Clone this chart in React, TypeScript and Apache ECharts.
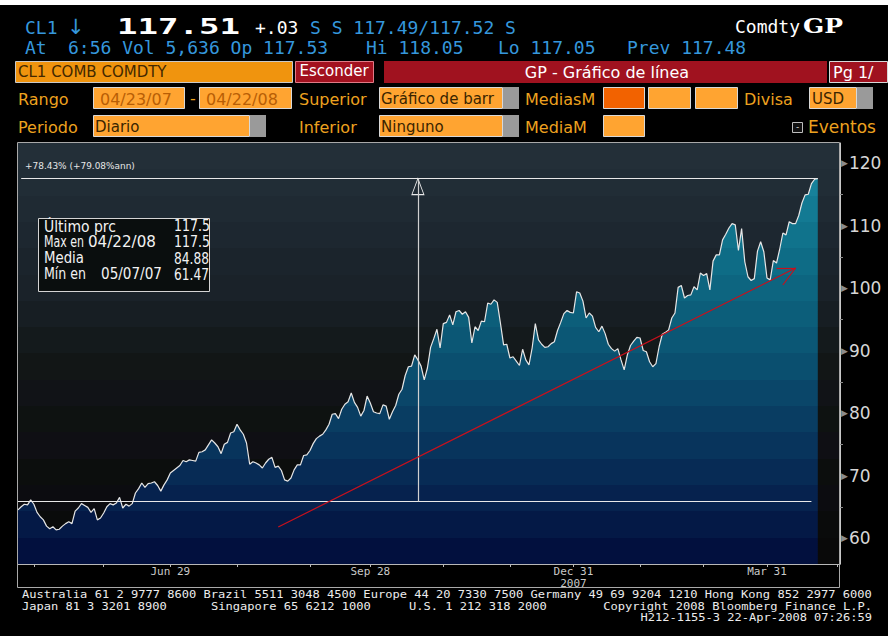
import React, { useEffect, useRef } from "react";
import * as echarts from "echarts";

// ---------- data ----------
const START_DATE = "2007-04-23";
const HOLIDAYS = ["2007-05-28", "2007-07-04", "2007-09-03", "2007-11-22", "2007-12-25", "2008-01-01", "2008-01-21", "2008-02-18", "2008-03-21"];
const AXIS_SLOTS = 260; // trading days shown on the axis (data ends at slot 252)

// CL1 daily close, 04/23/07 .. 04/22/08
const PRICES = [
  64.5, 65.0, 65.4, 65.3, 66.1, 65.4, 64.1, 63.4, 62.9, 61.9,
  61.47, 61.8, 61.3, 61.4, 61.9, 62.3, 62.6, 62.3, 64.3, 64.8,
  65.5, 65.2, 64.9, 64.1, 64.7, 62.9, 63.2, 64.0, 65.0, 65.5,
  65.3, 65.6, 66.5, 64.8, 65.4, 65.1, 65.5, 67.2, 67.9, 68.8,
  68.1, 68.7, 68.8, 69.0, 68.4, 67.5, 68.5, 69.3, 70.4, 70.8,
  71.2, 71.6, 72.4, 72.2, 72.5, 72.4, 72.3, 73.7, 73.8, 74.1,
  74.9, 75.7, 75.2, 74.6, 73.5, 75.0, 75.3, 76.8, 77.0, 78.2,
  77.3, 76.6, 75.2, 71.8, 72.2, 72.0, 71.7, 71.2, 72.0, 72.6,
  72.9, 71.3, 71.5, 70.8, 69.3, 69.1, 69.6, 70.9, 71.7, 71.7,
  73.2, 73.3, 74.0, 75.1, 75.9, 76.3, 76.6, 77.3, 78.2, 79.8,
  79.9, 79.1, 80.6, 81.4, 81.8, 83.2, 81.7, 80.9, 79.5, 80.4,
  82.7, 81.6, 80.2, 80.0, 79.9, 81.3, 81.1, 79.0, 80.2, 81.2,
  83.0, 83.8, 86.0, 87.4, 87.5, 89.3, 88.5, 87.5, 85.3, 87.2,
  90.5, 91.9, 93.4, 90.4, 94.3, 94.5, 95.7, 94.1, 96.2, 96.4,
  95.8, 96.2, 95.3, 91.2, 93.8, 93.2, 94.7, 94.6, 97.6, 97.4,
  98.1, 97.7, 94.4, 90.9, 91.0, 88.8, 89.0, 88.3, 87.6, 90.2,
  88.5, 87.7, 90.4, 94.3, 91.7, 91.0, 90.5, 90.6, 91.1, 91.4,
  93.2, 94.5, 95.9, 96.4, 96.1, 96.0, 99.4, 99.2, 97.9, 95.2,
  96.0, 95.5, 93.7, 93.0, 93.9, 92.7, 91.0, 90.3, 89.9, 90.3,
  88.5, 86.9, 89.3, 90.8, 91.5, 92.1, 92.0, 90.0, 89.8, 88.2,
  87.4, 87.9, 90.6, 92.6, 92.9, 93.3, 95.2, 96.0, 100.1, 100.4,
  98.4, 98.8, 98.9, 100.2, 99.7, 102.4, 102.0, 102.3, 99.7, 104.3,
  105.3, 105.3, 107.7, 108.6, 109.6, 110.3, 110.1, 106.0, 109.5, 104.2,
  101.8, 101.2, 101.5, 105.9, 107.4, 105.8, 101.6, 101.3, 104.4, 104.0,
  106.2, 108.8, 108.5, 110.6, 110.3, 110.3, 111.6, 113.6, 114.9, 115.0,
  116.7, 117.4, 117.51,
];

const X_LABELS: Record<string, string> = {
  "2007-06-29": "Jun 29",
  "2007-09-28": "Sep 28",
  "2007-12-31": "Dec 31\n2007",
  "2008-03-31": "Mar 31",
};
const Y_LABELS = [60, 70, 80, 90, 100, 110, 120];
const Y_MINOR = [65, 75, 85, 95, 105, 115];

const START_PRICE = 65.86;
const LAST_PRICE = 117.51;
const TREND_START = 61.76;
const TREND_END = 103.2;
const ARROW_HEAD_LOW = 100.48;

const INFO_LINES = [
  { label: "Último prc", date: "", value: "117.5" },
  { label: "Max en", date: "04/22/08", value: "117.5" },
  { label: "Media", date: "", value: "84.88" },
  { label: "Mín en", date: "05/07/07", value: "61.47" },
];

// ---------- helpers ----------
function tradingDays(start: string, count: number, holidays: string[]) {
  const out: string[] = [];
  const d = new Date(start + "T00:00:00Z");
  while (out.length < count) {
    const dow = d.getUTCDay();
    const s = d.toISOString().slice(0, 10);
    if (dow !== 0 && dow !== 6 && !holidays.includes(s)) out.push(s);
    d.setUTCDate(d.getUTCDate() + 1);
  }
  return out;
}

const MONO = "'DejaVu Sans Mono', monospace";
const SANS = "'DejaVu Sans', sans-serif";
const BLUE = "#3597dc";
const LABEL_OR = "#eda21f";
const FIELD_OR = "#ffa431";

let measureCtx: CanvasRenderingContext2D | null = null;
function measure(text: string, size: number, family: string, weight = "normal") {
  if (!measureCtx) measureCtx = document.createElement("canvas").getContext("2d");
  if (!measureCtx) return text.length * size * 0.6;
  measureCtx.font = `${weight} ${size}px ${family}`;
  return measureCtx.measureText(text).width;
}

function txt(x: number, y: number, text: string, o: any = {}) {
  const size = o.size ?? 16;
  const family = o.family ?? SANS;
  const weight = o.weight ?? "normal";
  let scaleX = o.scaleX ?? 1;
  if (o.width) scaleX = o.width / measure(text, size, family, weight);
  return {
    type: "text",
    x,
    y,
    z: o.z ?? 50,
    scaleX,
    scaleY: o.scaleY ?? 1,
    style: {
      text,
      fill: o.fill ?? "#fff",
      fontSize: size,
      fontFamily: family,
      fontWeight: weight,
      align: o.align ?? "left",
      textAlign: o.align ?? "left",
      verticalAlign: "middle",
      textVerticalAlign: "middle",
    },
  };
}
function box(x: number, y: number, w: number, h: number, fill: string, stroke?: string, z = 40) {
  return {
    type: "rect",
    z,
    shape: { x, y, width: w, height: h },
    style: { fill, stroke: stroke ?? "none", lineWidth: 1 },
  };
}
function bands(colors: string[]) {
  const n = colors.length;
  const stops: any[] = [];
  colors.forEach((c, k) => {
    stops.push({ offset: k / n, color: c }, { offset: (k + 1) / n, color: c });
  });
  return stops;
}

const BG_BANDS = ["#232f38", "#212d36", "#1f2a33", "#1d2730", "#1b242c", "#1a2229", "#171e23", "#141a1c", "#121616", "#111317", "#0e1211", "#0f0f14", "#0c0e0d", "#0c0c10", "#0a0b0b", "#090909"];
const AREA_BANDS = ["#1a8aa2", "#17819a", "#137a93", "#10738c", "#0e6c86", "#0d6580", "#0c5e7a", "#0b5775", "#0a4f6f", "#0a4669", "#093d62", "#08345c", "#072b55", "#06224e", "#041946", "#02103e"];

export default function App() {
  const ref = useRef<HTMLDivElement>(null);
  useEffect(() => {
    const chart = echarts.init(ref.current!, null, { renderer: "svg" });
    const dates = tradingDays(START_DATE, AXIS_SLOTS, HOLIDAYS);
    const monthEnds = new Set<number>();
    for (let i = 0; i < dates.length - 1; i++) {
      if (dates[i].slice(5, 7) !== dates[i + 1].slice(5, 7)) monthEnds.add(i);
    }
    const lastIdx = PRICES.length - 1;
    const vIdx = 126;

    const plotL = 18, plotT = 143, plotR = 840, plotB = 564;
    const foot = { family: MONO, size: 10, fill: "#ececec" };

    const graphics: any[] = [
      box(0, 0, 888, 5, "#ffffff", undefined, 1),
      // plot background
      {
        type: "rect",
        z: -10,
        shape: { x: plotL, y: plotT, width: plotR - plotL, height: plotB - plotT },
        style: { fill: new echarts.graphic.LinearGradient(0, 0, 0, 1, bands(BG_BANDS)) },
      },
      {
        type: "rect",
        z: 60,
        shape: { x: 17.5, y: 142.5, width: 822, height: 445 },
        style: { fill: "none", stroke: "#a9a9a9", lineWidth: 1 },
      },
      // header row 1
      txt(25, 27, "CL1", { family: MONO, size: 18, fill: BLUE }),
      txt(67, 27, "↓", { family: SANS, size: 21, fill: BLUE }),
      txt(117, 26, "117.51", { family: MONO, size: 22, weight: "bold", fill: "#ffffff", width: 123 }),
      txt(255, 27, "+.03", { family: MONO, size: 18, fill: "#ffffff" }),
      txt(310, 27, "S S 117.49/117.52 S", { family: MONO, size: 18, fill: BLUE }),
      txt(735, 26, "Comdty", { family: MONO, size: 18, fill: "#ffffff" }),
      txt(803, 26, "GP", { family: "'DejaVu Serif', serif", size: 20, weight: "bold", fill: "#ffffff", width: 40 }),
      // header row 2
      txt(25, 47, "At", { family: MONO, size: 18, fill: BLUE }),
      txt(68, 47, "6:56 Vol 5,636 Op 117.53", { family: MONO, size: 18, fill: BLUE }),
      txt(366, 47, "Hi 118.05", { family: MONO, size: 18, fill: BLUE }),
      txt(498, 47, "Lo 117.05", { family: MONO, size: 18, fill: BLUE }),
      txt(627, 47, "Prev 117.48", { family: MONO, size: 18, fill: BLUE }),
      // row 3
      box(15.5, 61.5, 277, 21, "#f0940e", "#c9c9c9"),
      txt(18, 72, "CL1 COMB COMDTY", { size: 15, fill: "#432800" }),
      box(295.5, 61.5, 78, 21, "#a3111f", "#e07a86"),
      txt(334, 71, "Esconder", { size: 15, fill: "#ffffff", align: "center" }),
      box(384, 61, 443, 22, "#a0121f"),
      txt(607, 72, "GP - Gráfico de línea", { size: 16, fill: "#ffffff", align: "center" }),
      box(829.5, 61.5, 58, 21, "#a0121f", "#d8d8d8"),
      txt(833, 72, "Pg 1/", { size: 16, fill: "#ffffff" }),
      // row 4
      txt(18, 99, "Rango", { fill: LABEL_OR }),
      box(93.5, 87.5, 91, 21, FIELD_OR, "#d8d8d8"),
      txt(100, 99, "04/23/07", { size: 16, fill: "#b85e05" }),
      txt(190, 98, "-", { fill: LABEL_OR }),
      box(199.5, 87.5, 92, 21, FIELD_OR, "#d8d8d8"),
      txt(206, 99, "04/22/08", { size: 16, fill: "#b85e05" }),
      txt(299, 99, "Superior", { fill: LABEL_OR }),
      box(379.5, 87.5, 123, 21, FIELD_OR, "#d8d8d8"),
      txt(381, 99, "Gráfico de barr", { size: 15, fill: "#3a2400" }),
      box(503, 87, 16, 22, "#9a9a9a"),
      txt(525, 99, "MediasM", { fill: LABEL_OR }),
      box(603.5, 87.5, 41, 21, "#f26200", "#d8d8d8"),
      box(648.5, 87.5, 42, 21, FIELD_OR, "#d8d8d8"),
      box(695.5, 87.5, 42, 21, FIELD_OR, "#d8d8d8"),
      txt(744, 99, "Divisa", { fill: LABEL_OR }),
      box(809.5, 87.5, 47, 21, FIELD_OR, "#d8d8d8"),
      txt(812, 99, "USD", { size: 15, fill: "#3a2400" }),
      box(857, 87, 16, 22, "#9a9a9a"),
      // row 5
      txt(18, 127, "Periodo", { fill: LABEL_OR }),
      box(93.5, 115.5, 156, 21, FIELD_OR, "#d8d8d8"),
      txt(95, 127, "Diario", { size: 15, fill: "#3a2400" }),
      box(250, 115, 16, 22, "#9a9a9a"),
      txt(299, 127, "Inferior", { fill: LABEL_OR }),
      box(379.5, 115.5, 123, 21, FIELD_OR, "#d8d8d8"),
      txt(381, 127, "Ninguno", { size: 15, fill: "#3a2400" }),
      box(503, 115, 16, 22, "#9a9a9a"),
      txt(525, 127, "MediaM", { fill: LABEL_OR }),
      box(603.5, 115.5, 41, 21, FIELD_OR, "#d8d8d8"),
      box(792.5, 122.5, 10, 10, "#111111", "#bdbdbd"),
      txt(797.5, 127, "-", { size: 9, fill: "#dddddd", align: "center" }),
      txt(808, 127, "Eventos", { size: 17, fill: LABEL_OR }),
      // in-plot annotation
      txt(25, 166, "+78.43% (+79.08%ann)", { family: SANS, size: 9, fill: "#e6e6e6", z: 70, width: 110 }),
      // info box
      box(38.5, 218.5, 171, 73, "#0a0e0e", "#d4d4d4", 70),
      // footer
      txt(22, 595, "Australia 61 2 9777 8600 Brazil 5511 3048 4500 Europe 44 20 7330 7500 Germany 49 69 9204 1210 Hong Kong 852 2977 6000", { ...foot, width: 850 }),
      txt(22, 606.5, "Japan 81 3 3201 8900", { ...foot, width: 145 }),
      txt(211, 606.5, "Singapore 65 6212 1000", { ...foot, width: 160 }),
      txt(409, 606.5, "U.S. 1 212 318 2000", { ...foot, width: 138 }),
      txt(872, 606.5, "Copyright 2008 Bloomberg Finance L.P.", { ...foot, width: 269, align: "right" }),
      txt(872, 618, "H212-1155-3 22-Apr-2008 07:26:59", { ...foot, width: 232, align: "right" }),
    ];
    const infoY = [226, 242, 258, 274];
    const labelW = [72, 40, 40, 42];
    const dateX = [0, 88, 0, 101];
    const dateW = [0, 68, 0, 61];
    const valW = [36, 36, 35, 35];
    INFO_LINES.forEach((l, k) => {
      const o = { family: SANS, size: 14, fill: "#f2f2f2", z: 80, scaleY: 1.1 };
      graphics.push(txt(44, infoY[k], l.label, { ...o, width: labelW[k] }));
      if (l.date) graphics.push(txt(dateX[k], infoY[k], l.date, { ...o, width: dateW[k] }));
      graphics.push(txt(174, infoY[k], l.value, { ...o, width: valW[k] }));
    });

    const white = { color: "#e8e8e8", width: 1, type: "solid" };
    const red = { color: "#c8101c", width: 1.2, type: "solid" };

    chart.setOption({
      animation: false,
      backgroundColor: "#000000",
      grid: { left: plotL, right: 888 - plotR, top: plotT, bottom: 636 - plotB, containLabel: false },
      graphic: { elements: graphics },
      xAxis: {
        type: "category",
        data: dates,
        boundaryGap: false,
        axisLine: { show: true, lineStyle: { color: "#b8b8b8", width: 1 } },
        axisTick: {
          show: true,
          length: 3,
          interval: (i: number) => monthEnds.has(i),
          lineStyle: { color: "#b8b8b8" },
        },
        axisLabel: {
          show: true,
          interval: (_i: number, v: string) => X_LABELS[v] !== undefined,
          formatter: (v: string) => X_LABELS[v] ?? "",
          color: "#c8c8c8",
          fontFamily: MONO,
          fontSize: 11,
          lineHeight: 12,
          margin: 1,
        },
        splitLine: { show: false },
      },
      yAxis: {
        type: "value",
        position: "right",
        min: 55.84,
        max: 123.2,
        axisLine: { show: true, lineStyle: { color: "#c8c8c8", width: 1 } },
        axisTick: { show: true, customValues: Y_MINOR, length: 3, inside: false, lineStyle: { color: "#8a8a8a" } },
        axisLabel: {
          show: true,
          customValues: Y_LABELS,
          margin: 1,
          formatter: (v: number) => `{t|▶}{n|${v}}`,
          rich: {
            t: { color: "#8c8c8c", fontSize: 9, fontFamily: SANS, padding: [0, 1, 0, 0] },
            n: { color: "#d6d6d6", fontSize: 17, fontFamily: SANS },
          },
        },
        splitLine: { show: false },
      },
      series: [
        {
          type: "line",
          data: PRICES,
          symbol: "none",
          smooth: false,
          z: 5,
          lineStyle: { color: "#e6e6e6", width: 1.2 },
          areaStyle: {
            opacity: 1,
            color: new echarts.graphic.LinearGradient(0, plotT, 0, plotB, bands(AREA_BANDS), true),
          },
          markLine: {
            silent: true,
            symbol: ["none", "none"],
            label: { show: false },
            lineStyle: { type: "solid" },
            z: 6,
            data: [
              [{ coord: [dates[0], START_PRICE], lineStyle: white }, { coord: [dates[lastIdx - 2], START_PRICE] }],
              [{ coord: [dates[1], LAST_PRICE], lineStyle: white }, { coord: [dates[lastIdx], LAST_PRICE] }],
              [{ coord: [dates[vIdx], START_PRICE], lineStyle: { color: "#d0d0d0", width: 1.2, type: "solid" } }, { coord: [dates[vIdx], LAST_PRICE] }],
              [{ coord: [dates[82], TREND_START], lineStyle: red }, { coord: [dates[245], TREND_END] }],
              [{ coord: [dates[245], TREND_END], lineStyle: red }, { coord: [dates[239], TREND_END] }],
              [{ coord: [dates[245], TREND_END], lineStyle: red }, { coord: [dates[241], ARROW_HEAD_LOW] }],
            ],
          },
          markPoint: {
            silent: true,
            label: { show: false },
            data: [
              {
                coord: [dates[vIdx], LAST_PRICE],
                symbol: "triangle",
                symbolSize: [12, 16],
                symbolOffset: [0, 8],
                itemStyle: { color: "#1f2a33", borderColor: "#e8e8e8", borderWidth: 1 },
              },
            ],
          },
        },
      ],
    });
    return () => chart.dispose();
  }, []);
  return (
    <div
      ref={ref}
      style={{ position: "fixed", left: 0, top: 0, width: 888, height: 636, background: "#000" }}
    />
  );
}
